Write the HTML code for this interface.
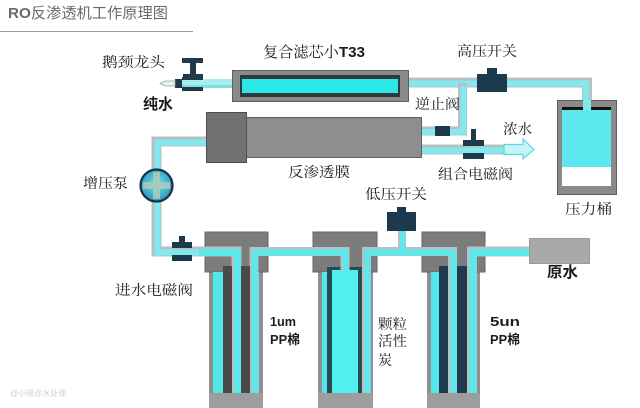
<!DOCTYPE html>
<html><head><meta charset="utf-8">
<style>
html,body{margin:0;padding:0;background:#fff;}
svg{display:block;}
.t{font-family:"Liberation Serif","Noto Serif CJK SC",serif;font-size:14px;fill:#1c1c1c;}
.b{font-family:"Liberation Sans","Noto Sans CJK SC",sans-serif;font-size:15px;font-weight:bold;fill:#1c1c1c;}
.s{font-family:"Liberation Sans","Noto Sans CJK SC",sans-serif;font-size:13px;font-weight:bold;fill:#1c1c1c;}
</style></head>
<body>
<svg width="640" height="408" viewBox="0 0 640 408" xmlns="http://www.w3.org/2000/svg">
<defs>
<radialGradient id="pg" cx="50%" cy="45%" r="55%">
<stop offset="0" stop-color="#6fe6ea"/>
<stop offset="1" stop-color="#2b96b8"/>
</radialGradient>
</defs>
<rect width="640" height="408" fill="#fff"/>

<!-- title -->
<text x="8" y="18" textLength="160" lengthAdjust="spacingAndGlyphs" style="font-family:'Liberation Sans','Noto Sans CJK SC',sans-serif;font-size:15px;fill:#6a6a6a;"><tspan font-weight="bold">RO</tspan>反渗透机工作原理图</text>
<line x1="0" y1="31.5" x2="193" y2="31.5" stroke="#9a9a9a" stroke-width="1"/>

<!-- ===== pipes (upper) ===== -->
<g fill="none" stroke-linejoin="miter" stroke-linecap="butt">
<path d="M408,82.5 H587 V108" stroke="#b6c1c4" stroke-width="10"/>
<path d="M408,83.5 H586 V108" stroke="#82e9ee" stroke-width="6"/>
<path d="M462.5,83 V131 H422" stroke="#b6c1c4" stroke-width="9"/>
<path d="M463.5,86 V132 H422" stroke="#82e9ee" stroke-width="6"/>
<path d="M422,149.5 H506" stroke="#b6c1c4" stroke-width="10"/>
<path d="M422,150.5 H506" stroke="#82e9ee" stroke-width="6"/>
<path d="M207,141.5 H156.5 V251.5 H200" stroke="#b6c1c4" stroke-width="10"/>
<path d="M207,142.5 H157.5 V252.5 H200" stroke="#82e9ee" stroke-width="6"/>
</g>

<!-- faucet pipe -->
<rect x="182" y="79" width="50" height="9" fill="#a6eef0"/>
<rect x="182" y="85" width="50" height="3" fill="#7fdfe4"/>
<!-- faucet -->
<rect x="182" y="58" width="21" height="5" fill="#1f3a4a"/>
<rect x="190" y="63" width="6" height="12" fill="#1f3a4a"/>
<rect x="183" y="74" width="20" height="4" fill="#1f3a4a"/>
<rect x="182" y="77" width="21" height="3" fill="#1f3a4a"/>
<rect x="182" y="87" width="21" height="4" fill="#1f3a4a"/>
<rect x="175" y="79" width="7" height="9" fill="#1f3a4a"/>
<polygon points="175,81 165,81 160,83.5 165,86 175,86" fill="#e8f4f4" stroke="#8aa" stroke-width="0.8"/>

<!-- composite T33 filter -->
<rect x="232.5" y="70.5" width="176" height="31" fill="#8a8a8a" stroke="#5e5e5e"/>
<rect x="240" y="75" width="160" height="22" fill="#2f3a3c"/>
<rect x="242" y="79" width="156" height="14" fill="#2ae8ea"/>

<!-- membrane -->
<rect x="246.5" y="117.5" width="175" height="40" fill="#8e8e8e" stroke="#5e5e5e"/>
<rect x="206.5" y="112.5" width="40" height="50" fill="#717171" stroke="#4e4e4e"/>

<!-- high pressure switch -->
<rect x="487" y="68" width="10" height="6" fill="#1d3a4c"/>
<rect x="477" y="74" width="30" height="18" fill="#1d3a4c"/>
<!-- check valve -->
<rect x="435" y="126" width="15" height="10" fill="#1d3a4c"/>
<!-- combination solenoid valve -->
<rect x="471" y="129" width="5" height="12" fill="#1d3a4c"/>
<rect x="463" y="140" width="21" height="6" fill="#1d3a4c"/>
<rect x="463" y="153" width="21" height="6" fill="#1d3a4c"/>
<!-- concentrate arrow -->
<polygon points="504,144.5 523,144.5 523,139 534,149.5 523,159 523,154.5 504,154.5" fill="#c6f3f5" stroke="#5cd8e0" stroke-width="1.2"/>

<!-- pressure tank -->
<rect x="557.5" y="100.5" width="59" height="94" fill="#8a8a8a" stroke="#5e5e5e"/>
<rect x="562" y="107" width="49" height="79" fill="#fff"/>
<rect x="562" y="110" width="49" height="57" fill="#5ce8ee"/>
<rect x="562" y="107" width="49" height="3" fill="#111"/>
<rect x="583" y="100" width="8" height="10" fill="#82e9ee"/>

<!-- pump -->
<circle cx="156.5" cy="185.5" r="16" fill="url(#pg)" stroke="#16304a" stroke-width="2.2"/>
<rect x="153" y="172" width="7" height="27" fill="#a9c9bd" opacity="0.9"/>
<rect x="143" y="182" width="27" height="7" fill="#a9c9bd" opacity="0.9"/>

<!-- inlet solenoid valve -->
<rect x="179" y="236" width="6" height="10" fill="#1d3a4c"/>
<rect x="172" y="242" width="20" height="6" fill="#1d3a4c"/>
<rect x="172" y="255" width="20" height="6" fill="#1d3a4c"/>

<!-- ===== filters ===== -->
<!-- filter 1 -->
<rect x="209" y="268" width="54" height="140" fill="#8f8f8f"/>
<rect x="205" y="232" width="63" height="40" fill="#7c7c7c" stroke="#666" stroke-width="1"/>
<rect x="213" y="272" width="10" height="121" fill="#52e8ea"/>
<rect x="223" y="266" width="27" height="127" fill="#4a4a4a"/>
<rect x="250" y="272" width="9" height="121" fill="#52e8ea"/>
<rect x="209" y="393" width="54" height="15" fill="#9d9d9d"/>

<!-- filter 2 -->
<rect x="318" y="268" width="55" height="140" fill="#8f8f8f"/>
<rect x="313" y="232" width="64" height="40" fill="#7c7c7c" stroke="#666" stroke-width="1"/>
<rect x="322" y="272" width="5" height="121" fill="#52e8ea"/>
<rect x="327" y="267" width="36" height="126" fill="#2b4b52"/>
<rect x="332" y="270" width="26" height="123" fill="#4ff0ee"/>
<rect x="363" y="272" width="7" height="121" fill="#52e8ea"/>
<rect x="318" y="393" width="55" height="15" fill="#9d9d9d"/>

<!-- filter 3 -->
<rect x="427" y="268" width="53" height="140" fill="#8f8f8f"/>
<rect x="422" y="232" width="63" height="40" fill="#7c7c7c" stroke="#666" stroke-width="1"/>
<rect x="431" y="272" width="8" height="121" fill="#52e8ea"/>
<rect x="439" y="266" width="28" height="127" fill="#1d3a4e"/>
<rect x="467" y="272" width="10" height="121" fill="#52e8ea"/>
<rect x="427" y="393" width="53" height="15" fill="#9d9d9d"/>

<!-- internal / connecting pipes -->
<g fill="none" stroke-linejoin="miter" stroke-linecap="butt">
<path d="M199,251.5 H236.5 V393" stroke="#b6c1c4" stroke-width="10"/>
<path d="M199,252.5 H237.5 V393" stroke="#5ce9ec" stroke-width="7"/>
<path d="M254,393 V251.5 H345 V272" stroke="#b6c1c4" stroke-width="9"/>
<path d="M255,393 V252.5 H345.5 V272" stroke="#5ce9ec" stroke-width="6"/>
<path d="M366.5,393 V251.5 H452.5 V393" stroke="#b6c1c4" stroke-width="9"/>
<path d="M367.5,393 V252.5 H453.5 V393" stroke="#5ce9ec" stroke-width="6"/>
<path d="M472,393 V251.5 H530" stroke="#b6c1c4" stroke-width="10"/>
<path d="M473,393 V252.5 H530" stroke="#5ce9ec" stroke-width="7"/>
<path d="M402,231 V249" stroke="#b6c1c4" stroke-width="8"/>
<path d="M403,231 V250" stroke="#5ce9ec" stroke-width="5"/>
</g>
<!-- redraw filter 1 dark cartridges around center tube -->
<rect x="223" y="266" width="9" height="127" fill="#4a4a4a"/>
<rect x="241" y="266" width="9" height="127" fill="#4a4a4a"/>
<rect x="439" y="266" width="9" height="127" fill="#1d3a4e"/>
<rect x="457" y="266" width="10" height="127" fill="#1d3a4e"/>

<!-- low pressure switch -->
<rect x="397" y="207" width="9" height="5" fill="#1d3a4c"/>
<rect x="387" y="212" width="29" height="19" fill="#1d3a4c"/>

<!-- raw water box -->
<rect x="529.5" y="238.5" width="60" height="25" fill="#a9a9a9" stroke="#999"/>

<!-- ===== labels ===== -->
<text class="t" x="102" y="67" textLength="63" lengthAdjust="spacingAndGlyphs">鹅颈龙头</text>
<text class="t" x="263" y="57" textLength="102" lengthAdjust="spacingAndGlyphs" style="font-size:15px">复合滤芯小<tspan font-family="Liberation Sans" font-weight="bold">T33</tspan></text>
<text class="t" x="457" y="56" textLength="60" lengthAdjust="spacingAndGlyphs">高压开关</text>
<text class="b" x="143" y="109" textLength="30" lengthAdjust="spacingAndGlyphs">纯水</text>
<text class="t" x="415" y="109" textLength="45" lengthAdjust="spacingAndGlyphs">逆止阀</text>
<text class="t" x="503" y="134" textLength="29" lengthAdjust="spacingAndGlyphs">浓水</text>
<text class="t" x="288" y="177" textLength="62" lengthAdjust="spacingAndGlyphs">反渗透膜</text>
<text class="t" x="438" y="179" textLength="75" lengthAdjust="spacingAndGlyphs">组合电磁阀</text>
<text class="t" x="83" y="188" textLength="45" lengthAdjust="spacingAndGlyphs">增压泵</text>
<text class="t" x="365" y="199" textLength="62" lengthAdjust="spacingAndGlyphs">低压开关</text>
<text class="t" x="565" y="214" textLength="47" lengthAdjust="spacingAndGlyphs">压力桶</text>
<text class="b" x="547" y="277" textLength="31" lengthAdjust="spacingAndGlyphs">原水</text>
<text class="t" x="115" y="295" textLength="78" lengthAdjust="spacingAndGlyphs">进水电磁阀</text>

<text class="s" x="270" y="326" textLength="26" lengthAdjust="spacingAndGlyphs">1um</text>
<text class="s" x="270" y="344" textLength="30" lengthAdjust="spacingAndGlyphs">PP棉</text>
<text class="t" x="378" y="329" textLength="29" lengthAdjust="spacingAndGlyphs">颗粒</text>
<text class="t" x="378" y="346" textLength="29" lengthAdjust="spacingAndGlyphs">活性</text>
<text class="t" x="378" y="365">炭</text>
<text class="s" x="490" y="326" textLength="30" lengthAdjust="spacingAndGlyphs">5un</text>
<text class="s" x="490" y="344" textLength="30" lengthAdjust="spacingAndGlyphs">PP棉</text>

<text x="10" y="396" style="font-family:'Liberation Sans','Noto Sans CJK SC',sans-serif;font-size:8px;fill:#d0d0d0;">@小晓@水处理</text>
</svg>
</body></html>
